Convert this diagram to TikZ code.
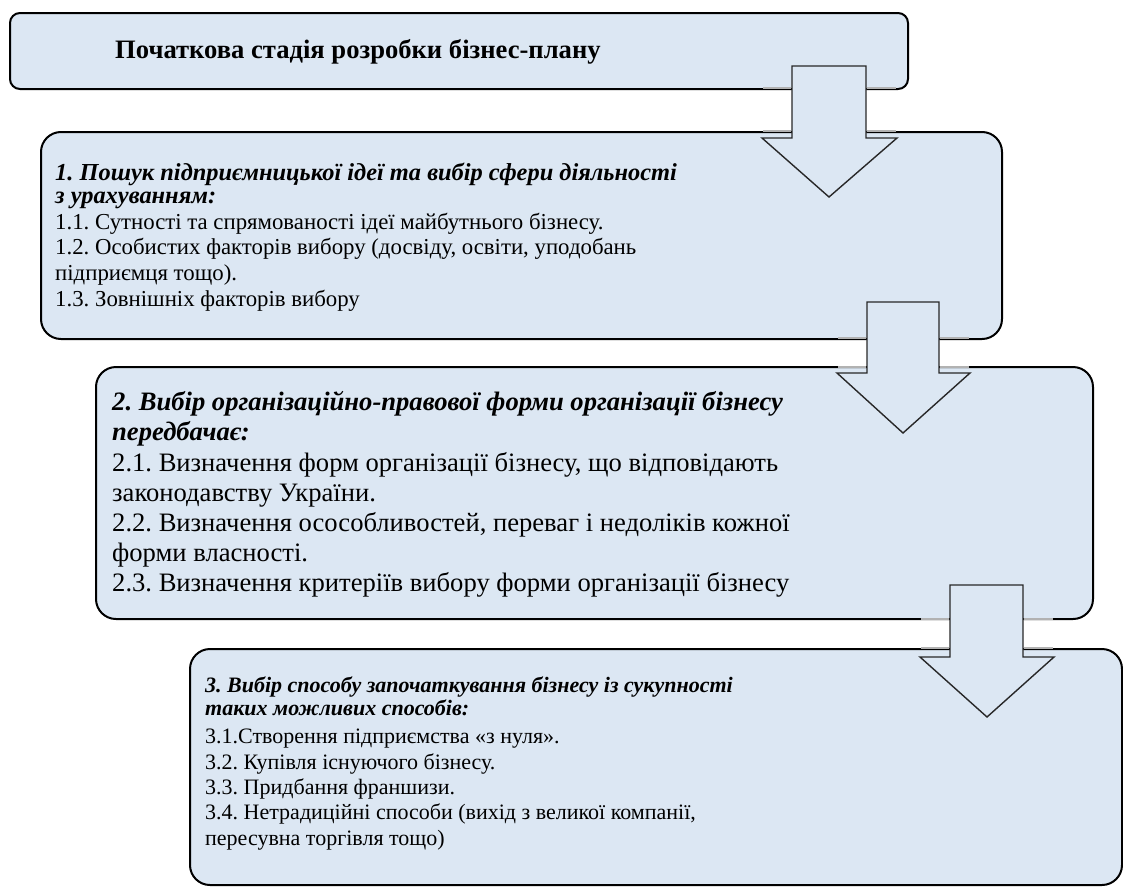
\documentclass[tikz,border=0pt]{standalone}
\usepackage{fontspec}
\setmainfont{Liberation Serif}
\definecolor{boxfill}{RGB}{220,231,243}
\definecolor{arrowline}{RGB}{40,40,40}
% heading line (bold italic)
\newcommand{\hd}[1]{\textbf{\textit{#1}}}
\begin{document}
\frenchspacing
\begin{tikzpicture}[x=1pt,y=-1pt,
  stagebox/.style={draw=black, line width=2pt, fill=boxfill, inner sep=0pt, anchor=north west},
  stagetext/.style={anchor=base west, inner sep=0pt, text=black},
  downarrow/.style={draw=arrowline, line width=1.4pt, fill=boxfill, line join=miter},
  fade/.style={draw=black!30, line width=2pt}]
\useasboundingbox (0,0) rectangle (1123,886);

% stage boxes
\node[stagebox, rounded corners=10pt, minimum width=898pt, minimum height=76pt] (b0) at (9,12) {};
\node[stagebox, rounded corners=20pt, minimum width=961pt, minimum height=207pt] (b1) at (40,131) {};
\node[stagebox, rounded corners=20pt, minimum width=997pt, minimum height=252pt] (b2) at (95,366) {};
\node[stagebox, rounded corners=20pt, minimum width=932pt, minimum height=236pt] (b3) at (189,648) {};

% texts (each node is anchored at the baseline of its last line)
\node[stagetext, font={\fontsize{26.6}{30}\selectfont\bfseries}] (t0) at (115,58)
  {Початкова стадія розробки бізнес-плану};

\node[stagetext] (t1) at (55,306)
  {\fontsize{22.8}{25.6}\selectfont
   \begin{tabular}[b]{@{}l@{}}
   {\fontsize{24.4}{25.6}\selectfont\hd{1. Пошук підприємницької ідеї та вибір сфери діяльності}}\\[-2pt]
   {\fontsize{24.4}{25.6}\selectfont\hd{з урахуванням:}}\\
   1.1. Сутності та спрямованості ідеї майбутнього бізнесу.\\
   1.2. Особистих факторів вибору (досвіду, освіти, уподобань\\
   підприємця тощо).\\
   1.3. Зовнішніх факторів вибору
   \end{tabular}};

\node[stagetext] (t2) at (112,591)
  {\fontsize{26.6}{30}\selectfont
   \begin{tabular}[b]{@{}l@{}}
   \hd{2. Вибір організаційно-правової форми організації бізнесу}\\
   \hd{передбачає:}\\[1pt]
   2.1. Визначення форм організації бізнесу, що відповідають\\
   законодавству України.\\
   2.2. Визначення осособливостей, переваг і недоліків кожної\\
   форми власності.\\
   2.3. Визначення критеріїв вибору форми організації бізнесу
   \end{tabular}};

\node[stagetext] (t3) at (205,845)
  {\fontsize{22}{25.3}\selectfont
   \begin{tabular}[b]{@{}l@{}}
   \hd{3. Вибір способу започаткування бізнесу із сукупності}\\[-2.3pt]
   \hd{таких можливих способів:}\\[2.7pt]
   3.1.Створення підприємства «з нуля».\\
   3.2. Купівля існуючого бізнесу.\\
   3.3. Придбання франшизи.\\
   3.4. Нетрадиційні способи (вихід з великої компанії,\\
   пересувна торгівля тощо)
   \end{tabular}};

% block arrows between stages
\draw[downarrow] (792,66) -- (866,66) -- (866,138) -- (897,138) -- (829,197)
  -- (762,138) -- (792,138) -- cycle;
\draw[downarrow] (867,302) -- (939,302) -- (939,373) -- (970,373) -- (903,433)
  -- (837,373) -- (867,373) -- cycle;
\draw[downarrow] (950,585) -- (1023,585) -- (1023,657) -- (1054,657) -- (987,717)
  -- (920,657) -- (950,657) -- cycle;

% lightened border pieces beside the arrow shafts
\draw[fade] (763,88) -- (791,88) (867,88) -- (896,88);
\draw[fade] (763,131) -- (791,131) (867,131) -- (896,131);
\draw[fade] (838,338) -- (866,338) (940,338) -- (969,338);
\draw[fade] (838,367) -- (866,367) (940,367) -- (969,367);
\draw[fade] (921,619) -- (949,619) (1024,619) -- (1053,619);
\draw[fade] (921,648) -- (949,648) (1024,648) -- (1053,648);
\end{tikzpicture}
\end{document}
